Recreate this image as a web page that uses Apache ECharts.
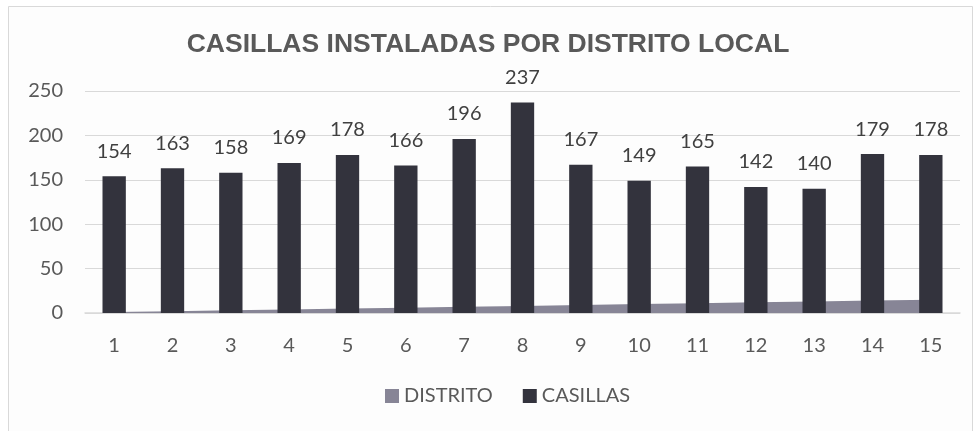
<!DOCTYPE html>
<html>
<head>
<meta charset="utf-8">
<style>
  html, body { margin: 0; padding: 0; background: #ffffff; }
  #main { width: 976px; height: 431px; }
</style>
<script src="https://cdn.jsdelivr.net/npm/echarts@6/dist/echarts.min.js"></script>
</head>
<body>
<div id="main"></div>
<script>
var distritos = ['1', '2', '3', '4', '5', '6', '7', '8', '9', '10', '11', '12', '13', '14', '15'];
var distritoValues = [1, 2, 3, 4, 5, 6, 7, 8, 9, 10, 11, 12, 13, 14, 15];
var casillasValues = [154, 163, 158, 169, 178, 166, 196, 237, 167, 149, 165, 142, 140, 179, 178];

var myChart = echarts.init(document.getElementById('main'));
var font = 'Lato, "Open Sans", sans-serif';

var option = {
    backgroundColor: '#ffffff',
    animation: false,
    graphic: [{
        type: 'rect',
        shape: { x: 8.5, y: 6.5, width: 964, height: 430 },
        style: { fill: '#fdfdfd', stroke: '#d9d9d9', lineWidth: 1 },
        z: -10
    }],
    title: {
        text: 'CASILLAS INSTALADAS POR DISTRITO LOCAL',
        left: 'center',
        top: 26,
        textStyle: { fontFamily: '"Liberation Sans", Arial, sans-serif', fontSize: 26.5, fontWeight: 'bold', color: '#595959' }
    },
    legend: {
        bottom: 20,
        left: 380,
        itemWidth: 14,
        itemHeight: 14,
        itemGap: 30,
        icon: 'rect',
        textStyle: { fontFamily: font, fontSize: 20, color: '#595959' },
        data: ['DISTRITO', 'CASILLAS']
    },
    grid: { left: 85, right: 16, top: 91, bottom: 118 },
    xAxis: {
        type: 'category',
        data: distritos,
        axisLine: { lineStyle: { color: '#d9d9d9', width: 1.5 } },
        axisTick: { show: false },
        axisLabel: { fontFamily: font, fontSize: 20, color: '#595959', margin: 23 }
    },
    yAxis: {
        type: 'value',
        min: 0,
        max: 250,
        interval: 50,
        axisLine: { show: false },
        axisTick: { show: false },
        splitLine: { lineStyle: { color: '#d9d9d9', width: 1.2 } },
        axisLabel: { fontFamily: font, fontSize: 20, color: '#595959', margin: 22 }
    },
    series: [
        {
            name: 'DISTRITO',
            type: 'line',
            data: distritoValues,
            symbol: 'none',
            lineStyle: { width: 0 },
            itemStyle: { color: '#878596' },
            areaStyle: { color: '#878596', opacity: 1 },
            z: 1
        },
        {
            name: 'CASILLAS',
            type: 'bar',
            data: casillasValues,
            barWidth: '40%',
            itemStyle: { color: '#33333d' },
            label: {
                show: true,
                position: 'top',
                distance: 15,
                fontFamily: font,
                fontSize: 20,
                color: '#404040'
            },
            z: 2
        }
    ]
};

myChart.setOption(option);
</script>
</body>
</html>
